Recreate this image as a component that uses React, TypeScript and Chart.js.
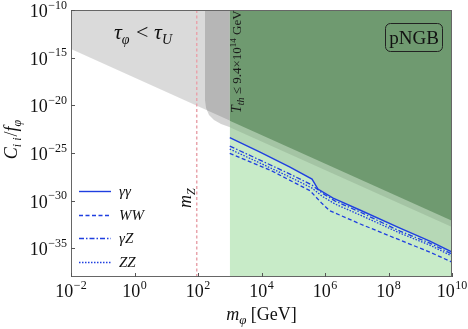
import React, { useEffect, useRef } from "react";
import { Chart, registerables } from "chart.js";

Chart.register(...registerables);

const SERIF = '"Liberation Serif", "DejaVu Serif", serif';

// tick exponents
const xTickExponents = [-2, 0, 2, 4, 6, 8, 10];
const yTickExponents = [-10, -15, -20, -25, -30, -35];

// blue constraint curves (m_phi [GeV], C/f)
const mGammaGamma = [1e3, 9e3, 7.9e4, 3.9e5, 6.0e5, 1.8e6, 1.3e7, 2.3e8, 2.0e9, 1e10];
const cGammaGamma = [4.2e-24, 1.26e-25, 3.4e-27, 1.85e-28, 1.65e-29, 1.9e-30, 1.0e-31, 1.3e-33, 5.8e-35, 4.1e-36];
const mWW = [1e3, 1.9e4, 3.4e5, 8.1e5, 1.4e6, 1.3e7, 2.3e8, 2.0e9, 1e10];
const cWW = [9.1e-26, 1.6e-27, 1.1e-29, 5.0e-31, 9.0e-32, 3.6e-33, 7.4e-35, 4.1e-36, 3.6e-37];
const mGammaZ = [1e3, 9e3, 7.9e4, 3.9e5, 8.1e5, 2.1e6, 1.3e7, 2.3e8, 2.0e9, 1e10];
const cGammaZ = [5.4e-25, 1.8e-26, 6.2e-28, 4.4e-29, 6.3e-30, 9.1e-31, 6.3e-32, 6.4e-34, 3.6e-35, 2.5e-36];
const mZZ = [1e3, 9e3, 7.9e4, 3.9e5, 8.1e5, 2.1e6, 1.3e7, 2.3e8, 2.0e9, 1e10];
const cZZ = [2.6e-25, 8.9e-27, 3.0e-28, 2.1e-29, 3.0e-30, 4.4e-31, 3.1e-32, 4.0e-34, 2.2e-35, 1.55e-36];

// lifetime boundary (tau_phi < tau_U above)
const mLifetime = [1e-2, 1e10];
const cLifetime = [7.94e-15, 7.94e-33];

// second gray band boundary
const mBand = [1.66e2, 1.66e2, 1.79e2, 2.22e2, 3.19e2, 5.3e2, 1.02e3, 1e10];
const cBand = [1e-10, 3.6e-20, 5.2e-21, 9.5e-22, 2.9e-22, 1.1e-22, 5.2e-23, 1.7e-33];

// green region (thermal production)
const mGreen = [1e3, 1e10];
const cGreenBottom = [1e-38, 1e-38];
const cGreenDark = [2.5e-22, 7.94e-33];
const cGreenMedium = [5.0e-23, 1.7e-33];

const mZMass = 91.19;

const BLUE = "#1f3fe0";

const pts = (xs: number[], ys: number[]) => xs.map((x, i) => ({ x, y: ys[i] }));

type Run = { t: string; size: number; italic?: boolean; dy?: number; gap?: number };

function runsWidth(ctx: CanvasRenderingContext2D, runs: Run[]) {
  let w = 0;
  for (const r of runs) {
    ctx.font = `${r.italic ? "italic " : ""}${r.size}px ${SERIF}`;
    w += ctx.measureText(r.t).width + (r.gap || 0);
  }
  return w;
}

function drawRuns(
  ctx: CanvasRenderingContext2D,
  runs: Run[],
  x: number,
  y: number,
  align: "left" | "center" | "right"
) {
  const w = runsWidth(ctx, runs);
  let cx = align === "left" ? x : align === "center" ? x - w / 2 : x - w;
  ctx.textAlign = "left";
  ctx.textBaseline = "alphabetic";
  for (const r of runs) {
    ctx.font = `${r.italic ? "italic " : ""}${r.size}px ${SERIF}`;
    ctx.fillText(r.t, cx, y + (r.dy || 0));
    cx += ctx.measureText(r.t).width + (r.gap || 0);
  }
}

function powRuns(exp: number): Run[] {
  const sup = exp < 0 ? "\u2212" + -exp : String(exp);
  return [
    { t: "10", size: 18, gap: 0.5 },
    { t: sup, size: 12, dy: -8.5 },
  ];
}

const decor = {
  id: "decor",
  afterDraw(chart: any) {
    const ctx: CanvasRenderingContext2D = chart.ctx;
    const xs = chart.scales.x;
    const ys = chart.scales.y;
    const a = chart.chartArea;
    ctx.save();

    // border
    ctx.strokeStyle = "#666";
    ctx.lineWidth = 1;
    ctx.strokeRect(Math.round(a.left) + 0.5, Math.round(a.top) + 0.5, Math.round(a.right - a.left) - 1, Math.round(a.bottom - a.top) - 1);

    // ticks
    ctx.strokeStyle = "#555";
    ctx.beginPath();
    for (const e of xTickExponents) {
      const px = Math.round(xs.getPixelForValue(Math.pow(10, e))) + 0.5;
      ctx.moveTo(px, a.bottom);
      ctx.lineTo(px, a.bottom - 4);
    }
    for (const e of yTickExponents) {
      const py = Math.round(ys.getPixelForValue(Math.pow(10, e))) + 0.5;
      ctx.moveTo(a.left, py);
      ctx.lineTo(a.left + 4, py);
    }
    ctx.stroke();

    // tick labels
    ctx.fillStyle = "#111";
    for (const e of xTickExponents) {
      const px = xs.getPixelForValue(Math.pow(10, e));
      drawRuns(ctx, powRuns(e), px, a.bottom + 20, "center");
    }
    for (const e of yTickExponents) {
      const py = ys.getPixelForValue(Math.pow(10, e));
      drawRuns(ctx, powRuns(e), a.left - 4, py + 7, "right");
    }

    // axis titles
    drawRuns(
      ctx,
      [
        { t: "m", size: 18, italic: true },
        { t: "\u03c6", size: 13, italic: true, dy: 4 },
        { t: " [GeV]", size: 18 },
      ],
      (a.left + a.right) / 2,
      320,
      "center"
    );
    ctx.save();
    ctx.translate(17, (a.top + a.bottom) / 2 - 4);
    ctx.rotate(-Math.PI / 2);
    drawRuns(
      ctx,
      [
        { t: "C", size: 18, italic: true },
        { t: "i i", size: 12, italic: true, dy: 4, gap: 1 },
        { t: "/", size: 18 },
        { t: "f", size: 18, italic: true },
        { t: "\u03c6", size: 12, italic: true, dy: 4 },
      ],
      0,
      0,
      "center"
    );
    ctx.restore();

    // tau label
    drawRuns(
      ctx,
      [
        { t: "\u03c4", size: 22, italic: true },
        { t: "\u03c6", size: 14, italic: true, dy: 5, gap: 1 },
        { t: " < ", size: 22 },
        { t: "\u03c4", size: 22, italic: true },
        { t: "U", size: 14, italic: true, dy: 5 },
      ],
      114,
      39,
      "left"
    );

    // pNGB box
    ctx.strokeStyle = "#222";
    ctx.lineWidth = 1;
    ctx.beginPath();
    (ctx as any).roundRect(385.5, 23.5, 57, 28, 5);
    ctx.stroke();
    ctx.fillStyle = "#111";
    drawRuns(ctx, [{ t: "pNGB", size: 19 }], 414, 44, "center");

    // T_th label
    ctx.save();
    ctx.fillStyle = "#1a1a1a";
    ctx.translate(241, 113);
    ctx.rotate(-Math.PI / 2);
    drawRuns(
      ctx,
      [
        { t: "T", size: 14, italic: true },
        { t: "th", size: 10, italic: true, dy: 3 },
        { t: " \u2264 9.4\u00d710", size: 13 },
        { t: "14", size: 9, dy: -5 },
        { t: " GeV", size: 13 },
      ],
      0,
      0,
      "left"
    );
    ctx.restore();

    // m_Z label
    ctx.save();
    ctx.fillStyle = "#111";
    ctx.translate(191, 208);
    ctx.rotate(-Math.PI / 2);
    drawRuns(
      ctx,
      [
        { t: "m", size: 18, italic: true },
        { t: "Z", size: 12, italic: true, dy: 4 },
      ],
      0,
      0,
      "left"
    );
    ctx.restore();

    // legend
    const items = [
      { label: [{ t: "\u03b3\u03b3", size: 15, italic: true }], dash: [] as number[], y: 191 },
      { label: [{ t: "WW", size: 15, italic: true }], dash: [4, 2.5], y: 215 },
      { label: [{ t: "\u03b3Z", size: 15, italic: true }], dash: [5, 2, 1.5, 2], y: 238 },
      { label: [{ t: "ZZ", size: 15, italic: true }], dash: [1.5, 1.5], y: 262 },
    ];
    for (const it of items) {
      ctx.strokeStyle = BLUE;
      ctx.lineWidth = 1.4;
      ctx.setLineDash(it.dash);
      ctx.beginPath();
      ctx.moveTo(79, it.y + 0.5);
      ctx.lineTo(111, it.y + 0.5);
      ctx.stroke();
      ctx.setLineDash([]);
      ctx.fillStyle = "#111";
      drawRuns(ctx, it.label as Run[], 119, it.y + 5, "left");
    }

    ctx.restore();
  },
};

export default function App() {
  const ref = useRef<HTMLCanvasElement | null>(null);

  useEffect(() => {
    document.body.style.margin = "0";
    const canvas = ref.current;
    if (!canvas) return;
    const base = {
      pointRadius: 0,
      pointHoverRadius: 0,
      tension: 0,
    };
    const chart = new Chart(canvas, {
      type: "line",
      data: {
        datasets: [
          {
            ...base,
            data: pts(mLifetime, cLifetime),
            borderWidth: 0,
            borderColor: "rgba(0,0,0,0)",
            backgroundColor: "rgba(0,0,0,0.145)",
            fill: "end",
            order: 20,
          },
          {
            ...base,
            data: pts(mBand, cBand),
            borderWidth: 0,
            borderColor: "rgba(0,0,0,0)",
            backgroundColor: "rgba(0,0,0,0.17)",
            fill: "end",
            order: 19,
          },
          {
            ...base,
            data: pts(mGreen, cGreenBottom),
            borderWidth: 0,
            borderColor: "rgba(0,0,0,0)",
            backgroundColor: "#c8ebc8",
            fill: "end",
            order: 18,
          },
          {
            ...base,
            data: pts(mGammaGamma, cGammaGamma),
            borderWidth: 0,
            borderColor: "rgba(0,0,0,0)",
            backgroundColor: "#b6d8b6",
            fill: "end",
            order: 17,
          },
          {
            ...base,
            data: pts(mGreen, cGreenMedium),
            borderWidth: 0,
            borderColor: "rgba(0,0,0,0)",
            backgroundColor: "#a4c4a4",
            fill: "end",
            order: 16,
          },
          {
            ...base,
            data: pts(mGreen, cGreenDark),
            borderWidth: 0,
            borderColor: "rgba(0,0,0,0)",
            backgroundColor: "#6f9a70",
            fill: "end",
            order: 15,
          },
          {
            ...base,
            data: [
              { x: mZMass, y: 1e-38 },
              { x: mZMass, y: 1e-10 },
            ],
            borderColor: "#e8a4ac",
            borderWidth: 1.5,
            borderDash: [3, 2.5],
            fill: false,
            order: 5,
          },
          {
            ...base,
            data: pts(mWW, cWW),
            borderColor: BLUE,
            borderWidth: 1.3,
            borderDash: [4, 2.5],
            fill: false,
            order: 4,
          },
          {
            ...base,
            data: pts(mZZ, cZZ),
            borderColor: BLUE,
            borderWidth: 1.3,
            borderDash: [1.5, 1.5],
            fill: false,
            order: 3,
          },
          {
            ...base,
            data: pts(mGammaZ, cGammaZ),
            borderColor: BLUE,
            borderWidth: 1.3,
            borderDash: [5, 2, 1.5, 2],
            fill: false,
            order: 2,
          },
          {
            ...base,
            data: pts(mGammaGamma, cGammaGamma),
            borderColor: BLUE,
            borderWidth: 1.4,
            fill: false,
            order: 1,
          },
        ] as any,
      },
      options: {
        animation: false,
        responsive: false,
        devicePixelRatio: 1,
        layout: { padding: { left: 71, top: 10, right: 16, bottom: 52 } },
        scales: {
          x: { type: "logarithmic", min: 1e-2, max: 1e10, display: false },
          y: { type: "logarithmic", min: 1e-38, max: 1e-10, display: false },
        },
        plugins: {
          legend: { display: false },
          tooltip: { enabled: false },
        },
        events: [],
      } as any,
      plugins: [decor],
    });
    return () => chart.destroy();
  }, []);

  return (
    <div style={{ width: 468, height: 329 }}>
      <canvas ref={ref} width={468} height={329} style={{ display: "block" }} />
    </div>
  );
}
